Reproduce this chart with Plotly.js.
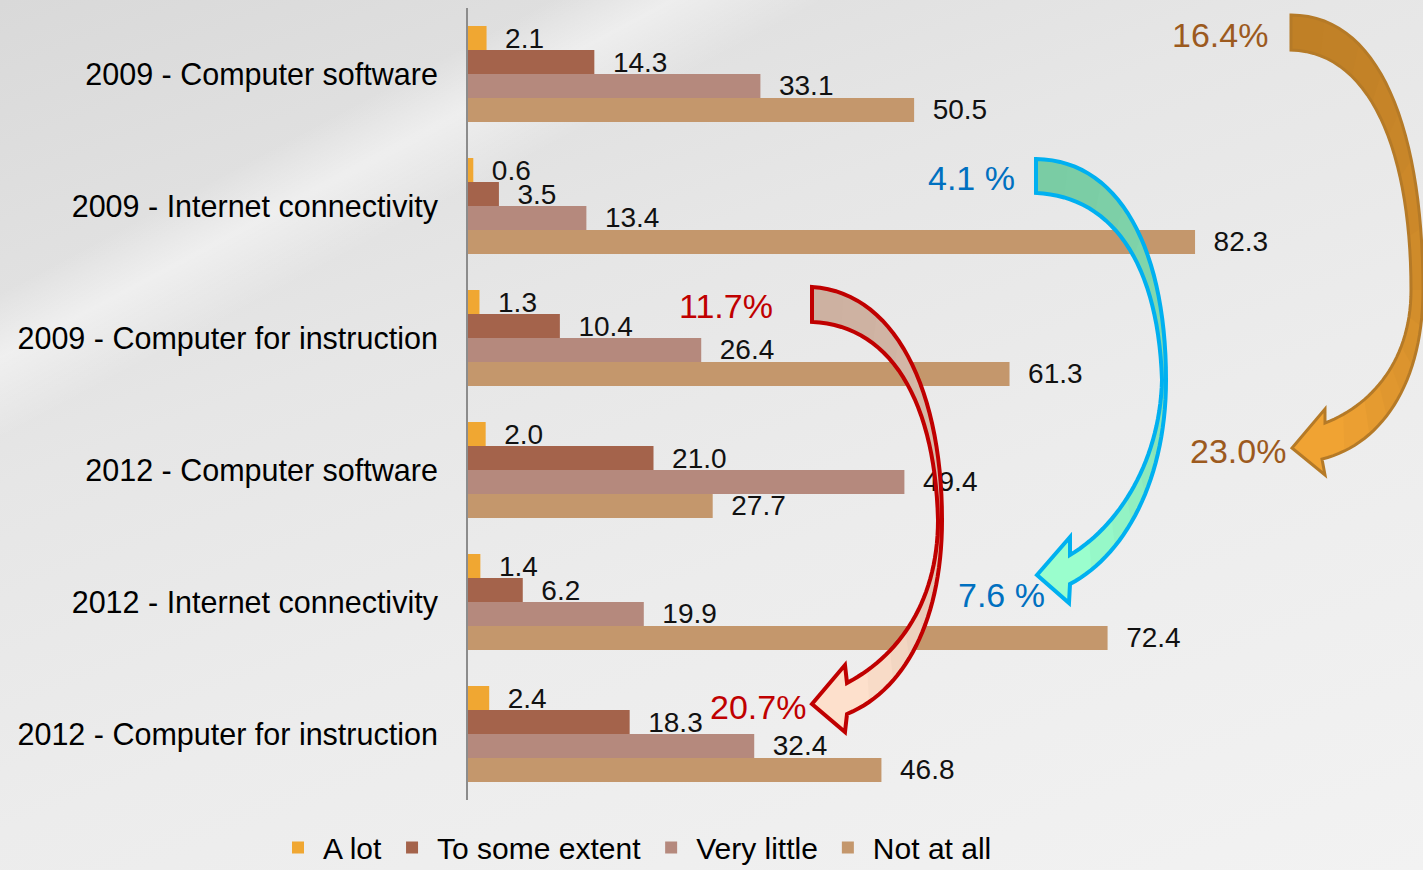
<!DOCTYPE html>
<html>
<head>
<meta charset="utf-8">
<script src="https://cdn.plot.ly/plotly-3.0.1.min.js"></script>
<style>
html,body{margin:0;padding:0;}
body{width:1423px;height:870px;overflow:hidden;
background:
 linear-gradient(152deg, rgba(255,255,255,0) 0%, rgba(255,255,255,0) 18%, rgba(255,255,255,0.45) 22%, rgba(255,255,255,0) 27%, rgba(255,255,255,0) 100%),
 linear-gradient(160deg, #d9d9d9 0%, #e6e6e6 35%, #ececec 60%, #f2f2f2 100%);}
#chart{width:1423px;height:870px;}
</style>
</head>
<body>
<div id="chart"></div>
<script>
// ---- data ----
const categories = [
  "2009 - Computer software",
  "2009 - Internet connectivity",
  "2009 - Computer for instruction",
  "2012 - Computer software",
  "2012 - Internet connectivity",
  "2012 - Computer for instruction"
];
const seriesNames = ["A lot", "To some extent", "Very little", "Not at all"];
const aLot        = [2.1, 0.6, 1.3, 2.0, 1.4, 2.4];
const someExtent  = [14.3, 3.5, 10.4, 21.0, 6.2, 18.3];
const veryLittle  = [33.1, 13.4, 26.4, 49.4, 19.9, 32.4];
const notAtAll    = [50.5, 82.3, 61.3, 27.7, 72.4, 46.8];
const seriesColors = ["#f0a732", "#a4634b", "#b5897d", "#c4976c"];
const changeLabels = ["16.4%", "23.0%", "4.1 %", "7.6 %", "11.7%", "20.7%"];

const allSeries = [aLot, someExtent, veryLittle, notAtAll];
const NB = "\u00a0\u00a0";
const traces = allSeries.map((vals, i) => ({
  type: "bar",
  orientation: "h",
  name: seriesNames[i],
  x: vals,
  y: categories,
  marker: {color: seriesColors[i]},
  texttemplate: NB + "%{x:.1f}",
  textposition: "outside",
  constraintext: "none",
  textfont: {family: "Liberation Sans, Arial, sans-serif", size: 28, color: "#111"},
  cliponaxis: false,
  hoverinfo: "skip"
}));

// ---- decorative curved arrows (pixel -> paper) ----
const L = 468, W = 955, T = 8, H = 792;
function toPaper(p){ return ((p[0] - L)/W).toFixed(5) + "," + ((T + H - p[1])/H).toFixed(5); }
function bez(p0, p1, p2, p3, n){
  const out = [];
  for (let k = 0; k <= n; k++){
    const t = k / n, u = 1 - t;
    out.push([u*u*u*p0[0] + 3*u*u*t*p1[0] + 3*u*t*t*p2[0] + t*t*t*p3[0],
              u*u*u*p0[1] + 3*u*u*t*p1[1] + 3*u*t*t*p2[1] + t*t*t*p3[1]]);
  }
  return out;
}
function poly(pts){ return "M " + pts.map(toPaper).join(" L ") + " Z"; }
function hexLerp(a, b, t){
  const pa = [1,3,5].map(i => parseInt(a.substr(i,2),16));
  const pb = [1,3,5].map(i => parseInt(b.substr(i,2),16));
  return "rgb(" + pa.map((v,i) => Math.round(v + (pb[i]-v)*t)).join(",") + ")";
}
// outerSegs / innerSegs: arrays of cubic segments, both running from tail to head
function arrowShapes(outerSegs, innerSegs, head, c0, c1, lineColor, lineWidth){
  const n = 30;
  let outer = [], inner = [];
  outerSegs.forEach((s, i) => { const b = bez(...s, n); outer = outer.concat(i ? b.slice(1) : b); });
  innerSegs.forEach((s, i) => { const b = bez(...s, n); inner = inner.concat(i ? b.slice(1) : b); });
  const full = outer.concat(head, inner.slice().reverse());
  const shapes = [{type:"path", xref:"paper", yref:"paper", path: poly(full), fillcolor: c1, line:{width:0}, layer:"above"}];
  const bands = 14, M = outer.length - 1;
  for (let b = bands - 1; b >= 1; b--){
    const m = Math.max(1, Math.round(M * b / bands));
    const pts = outer.slice(0, m + 1).concat(inner.slice(0, m + 1).reverse());
    shapes.push({type:"path", xref:"paper", yref:"paper", path: poly(pts),
                 fillcolor: hexLerp(c0, c1, Math.pow(b / bands, 1.6)), line:{width:0}, layer:"above"});
  }
  // reverse order so darker (shorter) bands are drawn last
  const bandShapes = shapes.slice(1).reverse().reverse();
  shapes.push({type:"path", xref:"paper", yref:"paper", path: poly(full), fillcolor:"rgba(0,0,0,0)",
               line:{color: lineColor, width: lineWidth}, layer:"above"});
  return shapes;
}

const orangeShapes = arrowShapes(
  [[[1291,15],[1380,15],[1423,130],[1423,290]], [[1423,290],[1423,385],[1380,445],[1322,459]]],
  [[[1291,50],[1370,52],[1411,150],[1411,290]], [[1411,290],[1411,360],[1372,405],[1325,423]]],
  [[1325,475],[1292,448],[1325,409]],
  "#bf7f26", "#f0a333", "#b57a27", 3);
const blueShapes = arrowShapes(
  [[[1036,159],[1120,160],[1166,250],[1166,380]], [[1166,380],[1166,480],[1125,555],[1070,584]]],
  [[[1036,193],[1110,196],[1158,260],[1162,380]], [[1162,380],[1160,460],[1120,525],[1070,555]]],
  [[1069,603],[1037,575],[1070,537]],
  "#7acba3", "#9afecd", "#00b0f0", 4);
const redShapes = arrowShapes(
  [[[812,287],[895,292],[942,390],[942,520]], [[942,520],[942,620],[905,690],[847,714]]],
  [[[812,322],[890,325],[935,400],[938,520]], [[938,520],[938,600],[900,655],[847,683]]],
  [[845,732],[812,704],[845,665]],
  "#ccb0a0", "#fde0cc", "#c00000", 4);

const shapes = orangeShapes.concat(blueShapes, redShapes);

function pct(text, px, py, color){
  return {xref:"paper", yref:"paper", x:(px-L)/W, y:(T+H-py)/H, xanchor:"right", yanchor:"middle",
          text:text, showarrow:false, font:{family:"Liberation Sans, Arial, sans-serif", size:34, color:color}};
}
const brown = "#9c5a1e", blue = "#0070c0", red = "#c00000";
const annotations = [
  pct(changeLabels[0], 1270, 35, brown),
  pct(changeLabels[1], 1288, 451, brown),
  pct(changeLabels[2], 1017, 178, blue),
  pct(changeLabels[3], 1047, 595, blue),
  pct(changeLabels[4], 775, 306, red),
  pct(changeLabels[5], 808, 707, red)
];

const layout = {
  width: 1423, height: 870,
  margin: {l: L, r: 0, t: T, b: 870 - T - H, pad: 0, autoexpand: false},
  paper_bgcolor: "rgba(0,0,0,0)",
  plot_bgcolor: "rgba(0,0,0,0)",
  barmode: "group",
  bargap: 0.273,
  bargroupgap: 0,
  xaxis: {range: [0, W / 8.834], showgrid: false, zeroline: false, showticklabels: false, showline: false, ticks: "", fixedrange: true},
  yaxis: {type: "category", autorange: "reversed", showline: true, linecolor: "#8c8c8c", linewidth: 2,
          ticks: "", showgrid: false, ticklabelstandoff: 22,
          tickfont: {family: "Liberation Sans, Arial, sans-serif", size: 30.5, color: "#000"}},
  showlegend: true,
  legend: {orientation: "h", x: (273 - L) / W, xanchor: "left", y: -0.060, yanchor: "middle",
           font: {family: "Liberation Sans Narrow, Liberation Sans, Arial, sans-serif", size: 30, color: "#000"},
           bgcolor: "rgba(0,0,0,0)", traceorder: "normal", itemwidth: 40},
  shapes: shapes,
  annotations: annotations,
  hovermode: false
};
Plotly.newPlot("chart", traces, layout, {displayModeBar: false, staticPlot: true});
</script>
</body>
</html>
